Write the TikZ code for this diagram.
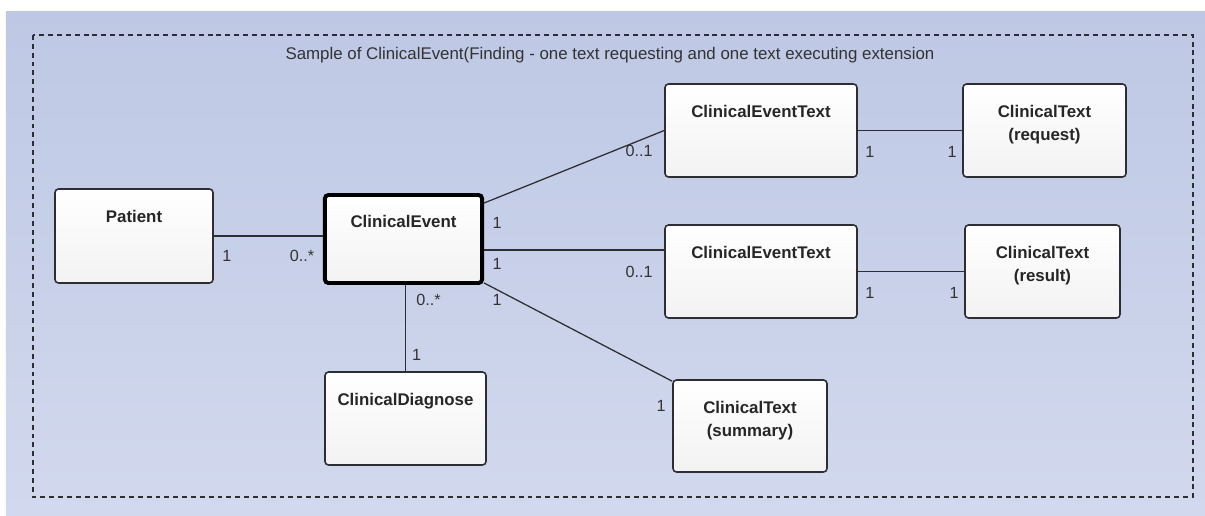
\documentclass[tikz,border=0pt]{standalone}
\usepackage{fontspec}
\setmainfont{Liberation Sans}
\usetikzlibrary{positioning}
\definecolor{bgtop}{RGB}{190,200,228}
\definecolor{bgbot}{RGB}{210,217,238}
\definecolor{linegray}{RGB}{45,45,52}

\begin{document}
\begin{tikzpicture}
	
	\tikzset{
		class box/.style={
			draw=linegray, line width=1.1pt, rounded corners=2.5pt,
			top color=white, bottom color=black!5,
			inner sep=0pt
		},
		class name/.style={
			anchor=north, yshift=-0.55cm, inner sep=0pt, align=center,
			font=\fontsize{12}{16}\selectfont\bfseries, text=black!85
		},
		assoc/.style={draw=linegray, line width=0.9pt},
		mult/.style={font=\fontsize{11.5}{14}\selectfont, text=black!80, inner sep=0pt}
	}
	
	\useasboundingbox (0,0) rectangle (30.125,-12.9);
	\fill[top color=bgtop, bottom color=bgbot] (0.15,-0.275) rectangle (30.125,-12.9);
	\draw[linegray, line width=1.1pt, dash pattern=on 3.5pt off 2.8pt] (0.825,-0.875) rectangle (29.825,-12.425);
	
	\node[font=\fontsize{12}{14}\selectfont, text=black!80] (title) at (15.25,-1.375)
		{Sample of ClinicalEvent(Finding - one text requesting and one text executing extension};
	
	% classes
	\node[class box, minimum width=3.95cm, minimum height=2.35cm,
		label={[class name]north:Patient}] (pat) at (3.35,-5.9) {};
	\node[class box, draw=black, line width=2.8pt, minimum width=3.93cm, minimum height=2.2cm,
		label={[class name]north:ClinicalEvent}] (ce) at (10.0875,-5.975) {};
	\node[class box, minimum width=4.8cm, minimum height=2.325cm,
		label={[class name]north:ClinicalEventText}] (cet1) at (19.025,-3.2625) {};
	\node[class box, minimum width=4.075cm, minimum height=2.325cm,
		label={[class name]north:ClinicalText\\(request)}] (ctreq) at (26.1125,-3.2625) {};
	\node[class box, minimum width=4.8cm, minimum height=2.325cm,
		label={[class name]north:ClinicalEventText}] (cet2) at (19.025,-6.7875) {};
	\node[class box, minimum width=3.875cm, minimum height=2.325cm,
		label={[class name]north:ClinicalText\\(result)}] (ctres) at (26.0625,-6.7875) {};
	\node[class box, minimum width=4.025cm, minimum height=2.325cm,
		label={[class name]north:ClinicalDiagnose}] (diag) at (10.1375,-10.4625) {};
	\node[class box, minimum width=3.85cm, minimum height=2.3cm,
		label={[class name]north:ClinicalText\\(summary)}] (ctsum) at (18.75,-10.65) {};
	
	% associations
	\draw[assoc] (pat.east) -- (pat.east -| ce.west)
		node[mult, at start, xshift=0.325cm, yshift=-0.5cm] {1}
		node[mult, at end, xshift=-0.525cm, yshift=-0.5cm] {0..*};
	\draw[assoc] ([yshift=-0.25cm]ce.north east) -- (cet1.west)
		node[mult, at start, xshift=0.325cm, yshift=-0.5cm] {1}
		node[mult, at end, xshift=-0.625cm, yshift=-0.5cm] {0..1};
	\coordinate (ce-mid) at ([yshift=-0.275cm]ce.east);
	\draw[assoc] (ce-mid) -- (ce-mid -| cet2.west)
		node[mult, at start, xshift=0.325cm, yshift=-0.35cm] {1}
		node[mult, at end, xshift=-0.625cm, yshift=-0.55cm] {0..1};
	\draw[assoc] ([yshift=0.05cm]ce.south east) -- ([yshift=-0.05cm]ctsum.north west)
		node[mult, at start, xshift=0.325cm, yshift=-0.425cm] {1}
		node[mult, at end, xshift=-0.275cm, yshift=-0.625cm] {1};
	\draw[assoc] (diag.north) -- (diag.north |- ce.south)
		node[mult, at start, xshift=0.275cm, yshift=0.4cm] {1}
		node[mult, at end, xshift=0.575cm, yshift=-0.375cm] {0..*};
	\draw[assoc] (cet1.east) -- (cet1.east -| ctreq.west)
		node[mult, at start, xshift=0.3cm, yshift=-0.525cm] {1}
		node[mult, at end, xshift=-0.25cm, yshift=-0.525cm] {1};
	\draw[assoc] (cet2.east) -- (cet2.east -| ctres.west)
		node[mult, at start, xshift=0.3cm, yshift=-0.525cm] {1}
		node[mult, at end, xshift=-0.25cm, yshift=-0.525cm] {1};
	
\end{tikzpicture}
\end{document}
